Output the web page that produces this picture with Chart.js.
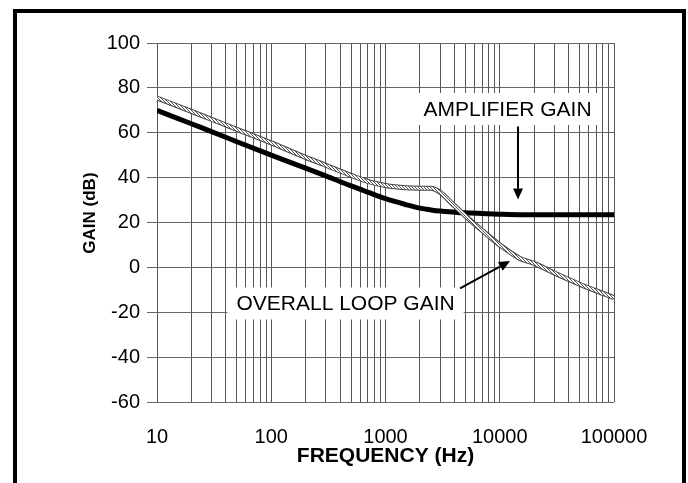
<!DOCTYPE html>
<html>
<head>
<meta charset="utf-8">
<script src="https://cdn.jsdelivr.net/npm/chart.js@4.4.1/dist/chart.umd.min.js"></script>
<style>
  html, body { margin: 0; padding: 0; background: #fff; }
</style>
</head>
<body>
<canvas id="gain-chart" width="688" height="483"></canvas>
<script>
// values (dB)
const freqHz = [10, 20, 30, 50, 100, 200, 300, 500, 700, 1000, 1500, 2000, 2500, 3000, 4000, 5000, 7000, 10000, 15000, 20000, 30000, 50000, 70000, 100000];
const amplifierGain = [70, 64, 60.5, 56, 50, 44.2, 40.8, 36.3, 33.5, 30.6, 28, 26.4, 25.6, 25.1, 24.6, 24.3, 24, 23.7, 23.5, 23.5, 23.5, 23.5, 23.5, 23.5];
const overallLoopGain = [75.5, 69.5, 66, 61.5, 55.5, 49, 45.5, 41, 38.3, 36.5, 35.5, 35.3, 35.3, 33.5, 27.5, 23, 16.5, 10, 4, 1.8, -2.5, -7.5, -10.5, -13.5];

const gridFreqs = [10, 20, 30, 40, 50, 60, 70, 80, 90,
  100, 200, 300, 400, 500, 600, 700, 800, 900,
  1000, 2000, 3000, 4000, 5000, 6000, 7000, 8000, 9000,
  10000, 20000, 30000, 40000, 50000, 60000, 70000, 80000, 90000, 100000];
const xTickLabels = ['10', '100', '1000', '10000', '100000'];

const FONT = '"Liberation Sans", Arial, Helvetica, sans-serif';

function toPoints(ys) {
  return freqHz.map((f, i) => ({ x: f, y: ys[i] }));
}

// hatched stroke for the loop gain curve
const pc = document.createElement('canvas');
pc.width = 3; pc.height = 3;
const pctx = pc.getContext('2d');
pctx.fillStyle = '#fff';
pctx.fillRect(0, 0, 3, 3);
pctx.fillStyle = '#555';
for (let i = 0; i < 3; i++) pctx.fillRect(i, i, 1, 1);
const ctx = document.getElementById('gain-chart').getContext('2d');
const hatch = ctx.createPattern(pc, 'repeat');

const notes = [
  { text: 'AMPLIFIER GAIN', freq: 11700, db: 70.6 },
  { text: 'OVERALL LOOP GAIN', freq: 447, db: -16.1 },
];
const arrows = [
  { from: [14450, 62.8], to: [14450, 30.2] },
  { from: [4490, -9.4], to: [12300, 2.8] },
];

function drawArrow(c, x0, y0, x1, y1) {
  const a = Math.atan2(y1 - y0, x1 - x0);
  const len = 11, half = 5;
  const bx = x1 - len * Math.cos(a), by = y1 - len * Math.sin(a);
  c.beginPath();
  c.moveTo(x0, y0);
  c.lineTo(bx, by);
  c.stroke();
  c.beginPath();
  c.moveTo(x1, y1);
  c.lineTo(bx + half * Math.sin(a), by - half * Math.cos(a));
  c.lineTo(bx - half * Math.sin(a), by + half * Math.cos(a));
  c.closePath();
  c.fill();
}

const notesPlugin = {
  id: 'notes',
  beforeDatasetsDraw(chart) {
    const { ctx, scales: { x, y } } = chart;
    ctx.save();
    ctx.font = '21px ' + FONT;
    ctx.textAlign = 'center';
    ctx.textBaseline = 'middle';
    notes.forEach(n => {
      const cx = x.getPixelForValue(n.freq);
      const cy = y.getPixelForValue(n.db);
      const w = ctx.measureText(n.text).width + 18;
      const h = 32;
      ctx.fillStyle = '#fff';
      ctx.fillRect(cx - w / 2, cy - h / 2, w, h);
      ctx.fillStyle = '#000';
      ctx.fillText(n.text, cx, cy + 1);
    });
    ctx.restore();
  },
  afterDatasetsDraw(chart) {
    const { ctx, scales: { x, y } } = chart;
    ctx.save();
    ctx.strokeStyle = '#000';
    ctx.fillStyle = '#000';
    ctx.lineWidth = 2;
    arrows.forEach(a => {
      drawArrow(ctx,
        x.getPixelForValue(a.from[0]), y.getPixelForValue(a.from[1]),
        x.getPixelForValue(a.to[0]), y.getPixelForValue(a.to[1]));
    });
    ctx.restore();
  },
  afterDraw(chart) {
    const ctx = chart.ctx;
    ctx.save();
    ctx.strokeStyle = '#000';
    ctx.lineWidth = 4;
    ctx.strokeRect(15, 11, 669, 495);
    ctx.restore();
  },
};

new Chart(ctx, {
  type: 'line',
  data: {
    datasets: [
      {
        label: 'Amplifier gain',
        data: toPoints(amplifierGain),
        borderColor: '#000',
        borderWidth: 5,
        pointRadius: 0,
        cubicInterpolationMode: 'monotone',
        order: 2,
      },
      {
        label: 'Overall loop gain',
        data: toPoints(overallLoopGain),
        borderColor: '#444',
        borderWidth: 5,
        pointRadius: 0,
        cubicInterpolationMode: 'monotone',
        order: 1,
      },
      {
        label: 'Overall loop gain hatch',
        data: toPoints(overallLoopGain),
        borderColor: hatch,
        borderWidth: 3,
        pointRadius: 0,
        cubicInterpolationMode: 'monotone',
        order: 0,
      },
    ],
  },
  options: {
    responsive: false,
    animation: false,
    layout: { padding: { left: 72, top: 43, right: 74, bottom: 0 } },
    plugins: {
      legend: { display: false },
      tooltip: { enabled: false },
    },
    scales: {
      x: {
        type: 'logarithmic',
        min: 10,
        max: 100000,
        afterBuildTicks: (s) => { s.ticks = gridFreqs.map(v => ({ value: v })); },
        afterFit: (s) => { s.height = 81; },
        ticks: {
          autoSkip: false,
          maxRotation: 0,
          color: '#000',
          padding: 23,
          font: { family: FONT, size: 20 },
          callback: (v) => xTickLabels.includes(String(v)) ? String(v) : '',
        },
        grid: { color: '#555', lineWidth: 1, drawTicks: false },
        border: { display: false },
        title: {
          display: true,
          text: 'FREQUENCY (Hz)',
          color: '#000',
          font: { family: FONT, size: 21, weight: 'bold' },
          padding: { top: 0, bottom: 14 },
        },
      },
      y: {
        type: 'linear',
        min: -60,
        max: 100,
        afterFit: (s) => { s.width = 157 - 72; },
        ticks: {
          stepSize: 20,
          color: '#000',
          padding: 7,
          font: { family: FONT, size: 20 },
        },
        grid: { color: '#666', lineWidth: 1, tickLength: 10 },
        border: { display: false },
        title: {
          display: true,
          text: '    GAIN (dB)',
          color: '#000',
          font: { family: FONT, size: 17, weight: 'bold' },
          padding: { top: 8, bottom: 0 },
        },
      },
    },
  },
  plugins: [notesPlugin],
});
</script>
</body>
</html>
